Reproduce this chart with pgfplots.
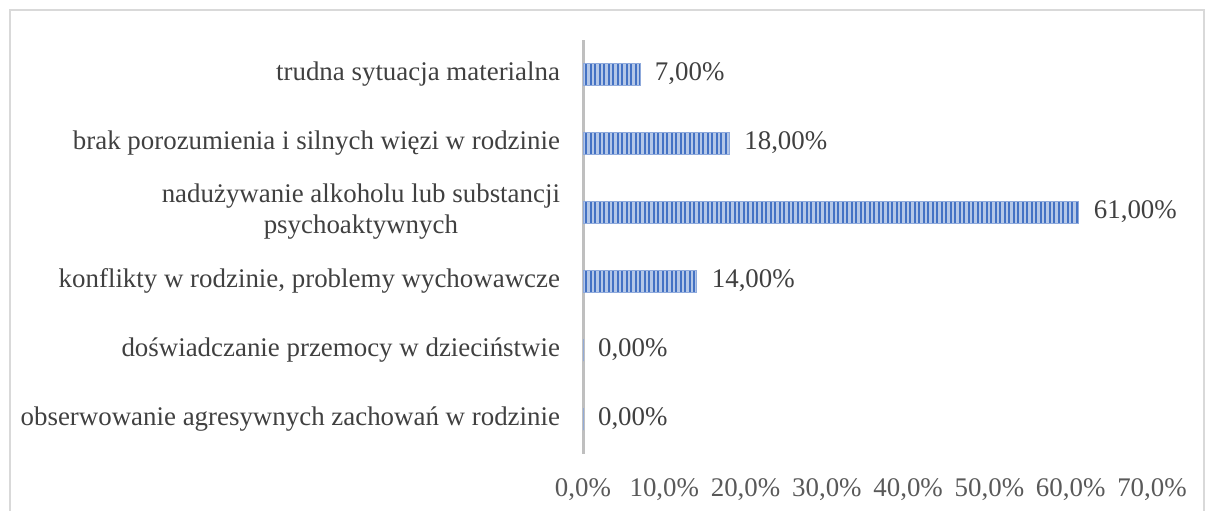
\documentclass[border=0pt]{standalone}
\usepackage{pgfplots}
\pgfplotsset{compat=1.18}
\usepackage{fontspec}
\setmainfont{Liberation Serif}
\usetikzlibrary{patterns}
\pgfdeclarepatternformonly{vlines}{\pgfqpoint{-0.5pt}{-1pt}}{\pgfqpoint{1.5pt}{101pt}}{\pgfqpoint{2.25bp}{100pt}}{%
  \pgfsetlinewidth{1bp}%
  \pgfpathmoveto{\pgfqpoint{0.5pt}{-1pt}}%
  \pgfpathlineto{\pgfqpoint{0.5pt}{101pt}}%
  \pgfusepath{stroke}}
\definecolor{barfill}{RGB}{180,199,231}
\definecolor{barline}{RGB}{68,114,196}
\definecolor{txt}{RGB}{64,64,64}
\definecolor{ticktxt}{RGB}{89,89,89}
\definecolor{axgray}{RGB}{191,191,191}
\definecolor{frame}{RGB}{217,217,217}
\begin{document}
\begin{tikzpicture}[x=1bp,y=1bp]
\useasboundingbox (0,0) rectangle (603,255);
\draw[frame,line width=0.6bp] (5,-5) -- (5,250) -- (602,250) -- (602,-5);
\begin{axis}[
  at={(291.5bp,28.25bp)}, anchor=south west,
  scale only axis, width=284.5bp, height=207bp,
  xbar, bar width=11bp,
  xmin=0, xmax=70, ymin=-0.5, ymax=5.5,
  axis x line*=bottom,
  x axis line style={draw=none},
  axis y line*=left,
  y axis line style={axgray, line width=1.5bp, -},
  xtick={0,10,...,70},
  ytick={0,1,2,3,4,5},
  yticklabels={obserwowanie agresywnych zachowań w rodzinie,
    doświadczanie przemocy w dzieciństwie,
    {konflikty w rodzinie, problemy wychowawcze},
    {nadużywanie alkoholu lub substancji\\psychoaktywnych},
    brak porozumienia i silnych więzi w rodzinie,
    trudna sytuacja materialna},
  major tick length=0pt,
  yticklabel style={font=\fontsize{13.5}{15.5}\selectfont, text=txt, align=center, xshift=-8bp},
  xticklabel style={font=\fontsize{13.5}{15}\selectfont, text=ticktxt},
  xticklabel={\pgfmathprintnumber[fixed,fixed zerofill,precision=1,use comma]{\tick}\%},
  /pgf/number format/assume math mode=true,
  xticklabel shift=9bp,
  nodes near coords={\pgfmathprintnumber[fixed,fixed zerofill,precision=2,use comma,assume math mode=true]{\pgfplotspointmeta}\%},
  nodes near coords style={font=\fontsize{13.5}{15}\selectfont, text=txt, anchor=west, xshift=4bp},
  point meta=x,
  clip=false,
]
\addplot[fill=barfill, draw=barline!60, line width=0.4bp,
  postaction={pattern=vlines, pattern color=barline}]
  coordinates {(0,0) (0,1) (14,2) (61,3) (18,4) (7,5)};
\end{axis}
\end{tikzpicture}
\end{document}
